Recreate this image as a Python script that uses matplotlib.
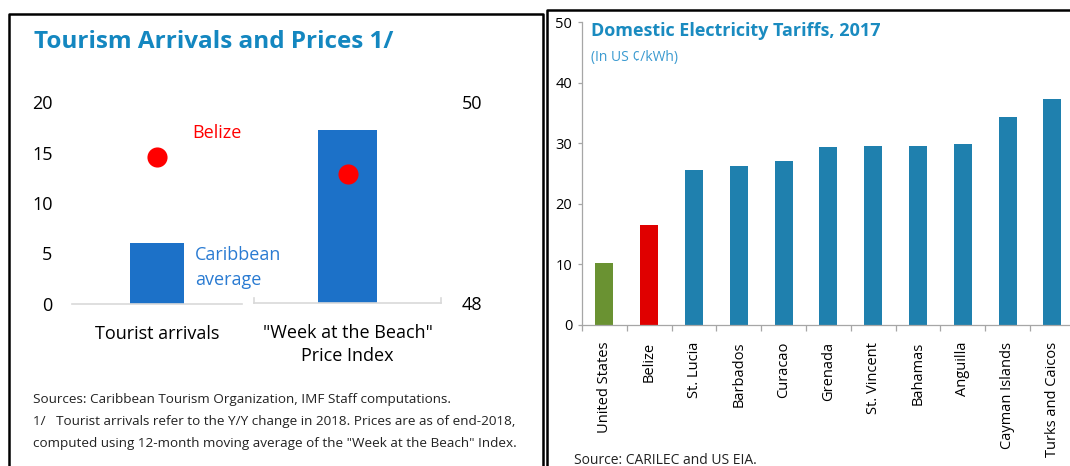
import matplotlib
matplotlib.use('Agg')
import matplotlib.pyplot as plt
from matplotlib.lines import Line2D

plt.rcParams['font.family'] = ['Open Sans', 'DejaVu Sans']

# left panel data
tour_cats = ['Tourist arrivals', '"Week at the Beach"\nPrice Index']
carib_avg = [6.0, 49.72]
belize_pts = [14.55, 49.28]

# right panel data
countries = ['United States', 'Belize', 'St. Lucia', 'Barbados', 'Curacao', 'Grenada',
             'St. Vincent', 'Bahamas', 'Anguilla', 'Cayman Islands', 'Turks and Caicos']
tariffs = [10.2, 16.5, 25.5, 26.3, 27.0, 29.3, 29.6, 29.6, 29.8, 34.3, 37.3]
bar_colors = ['#6A9232', '#E00000'] + ['#1F80AE'] * 9

W, H = 1070, 466
fig = plt.figure(figsize=(W / 100, H / 100), dpi=100)


def box(l, t, r, b):
    return [l / W, 1 - b / H, (r - l) / W, (b - t) / H]


def fx(x):
    return x / W


def fy(y):
    return 1 - y / H


# panel frames
for xs, ys in [([8.5, 8.5, 543, 543], [470, 14, 14, 470]),
               ([547, 547, 1075], [470, 10, 10])]:
    fig.add_artist(Line2D([fx(v) for v in xs], [fy(v) for v in ys], color='black', lw=1.8))

blue_bar = '#1C71C8'
grey = '#D9D9D9'

# ---- left panel
fig.text(fx(34), fy(42), 'Tourism Arrivals and Prices 1/', fontsize=17.5, fontweight='bold',
         color='#1487C0', va='center')

ax1 = fig.add_axes(box(72, 102, 242, 304))
ax2 = fig.add_axes(box(254, 102, 441, 303))

ax1.bar([0], [carib_avg[0]], width=0.32, color=blue_bar, zorder=2)
ax1.scatter([0], [belize_pts[0]], s=210, color='#FF0000', zorder=3, linewidths=0)
ax1.set_xlim(-0.5, 0.5)
ax1.set_ylim(0, 20)
ax1.set_yticks([0, 5, 10, 15, 20])
ax1.tick_params(axis='y', length=0, pad=14, labelsize=13)

ax2.bar([0], [carib_avg[1]], width=0.315, color=blue_bar, zorder=2)
ax2.scatter([0], [belize_pts[1]], s=210, color='#FF0000', zorder=3, linewidths=0)
ax2.set_xlim(-0.5, 0.5)
ax2.set_ylim(48, 50)
ax2.yaxis.tick_right()
ax2.set_yticks([48, 50])
ax2.tick_params(axis='y', length=0, pad=15, labelsize=13)

for ax, lab in zip([ax1, ax2], tour_cats):
    ax.set_xticks([0])
    ax.set_xticklabels([lab], fontsize=13, linespacing=1.35)
    ax.tick_params(axis='x', length=0, pad=15)
    ax.patch.set_visible(False)
    for s in ['top', 'left', 'right']:
        ax.spines[s].set_visible(False)
    ax.spines['bottom'].set_color(grey)
    ax.spines['bottom'].set_linewidth(1.2)

# small end ticks on the index baseline
for s in ['left', 'right']:
    ax2.spines[s].set_visible(True)
    ax2.spines[s].set_color(grey)
    ax2.spines[s].set_linewidth(1.2)
    ax2.spines[s].set_bounds(48, 48.05)

ax1.text(0.21, 16.9, 'Belize', color='#FF0000', fontsize=13, va='center')
ax1.text(0.225, 3.6, 'Caribbean\naverage', color='#2A7BD2', fontsize=13, va='center',
         linespacing=1.45)

notes = ['Sources: Caribbean Tourism Organization, IMF Staff computations.',
         '1/   Tourist arrivals refer to the Y/Y change in 2018. Prices are as of end-2018,',
         'computed using 12-month moving average of the "Week at the Beach" Index.']
for i, line in enumerate(notes):
    fig.text(fx(33), fy(400 + 21.5 * i), line, fontsize=9.7, va='center', color='#222222')

# ---- right panel
ax3 = fig.add_axes(box(582, 22, 1070, 325))
x = list(range(len(countries)))
ax3.bar(x, tariffs, width=0.4, color=bar_colors, zorder=2)
ax3.set_xlim(-0.5, -0.5 + 488 / 44.8)
ax3.set_ylim(0, 50)
ax3.set_yticks([0, 10, 20, 30, 40, 50])
ax3.set_xticks(x)
ax3.set_xticklabels(countries, rotation=90, fontsize=10.5)
ax3.set_xticks([i - 0.5 for i in x], minor=True)
ax3.tick_params(axis='x', which='major', length=0, pad=12)
ax3.tick_params(axis='x', which='minor', length=4, color='#A6A6A6', width=0.9)
ax3.tick_params(axis='y', length=3, color='#A6A6A6', width=0.9, labelsize=10.5, pad=4)
for s in ['top', 'right']:
    ax3.spines[s].set_visible(False)
for s in ['left', 'bottom']:
    ax3.spines[s].set_color('#A6A6A6')
    ax3.spines[s].set_linewidth(0.9)

fig.text(fx(591), fy(31), 'Domestic Electricity Tariffs, 2017', fontsize=13, fontweight='bold',
         color='#1A8BC0', va='center')
fig.text(fx(591), fy(57), '(In US \u00a2/kWh)', fontsize=10, color='#3A9AD0', va='center')
fig.text(fx(574), fy(460), 'Source: CARILEC and US EIA.', fontsize=10, va='center', color='#222222')

fig.savefig('out.png', dpi=100)
